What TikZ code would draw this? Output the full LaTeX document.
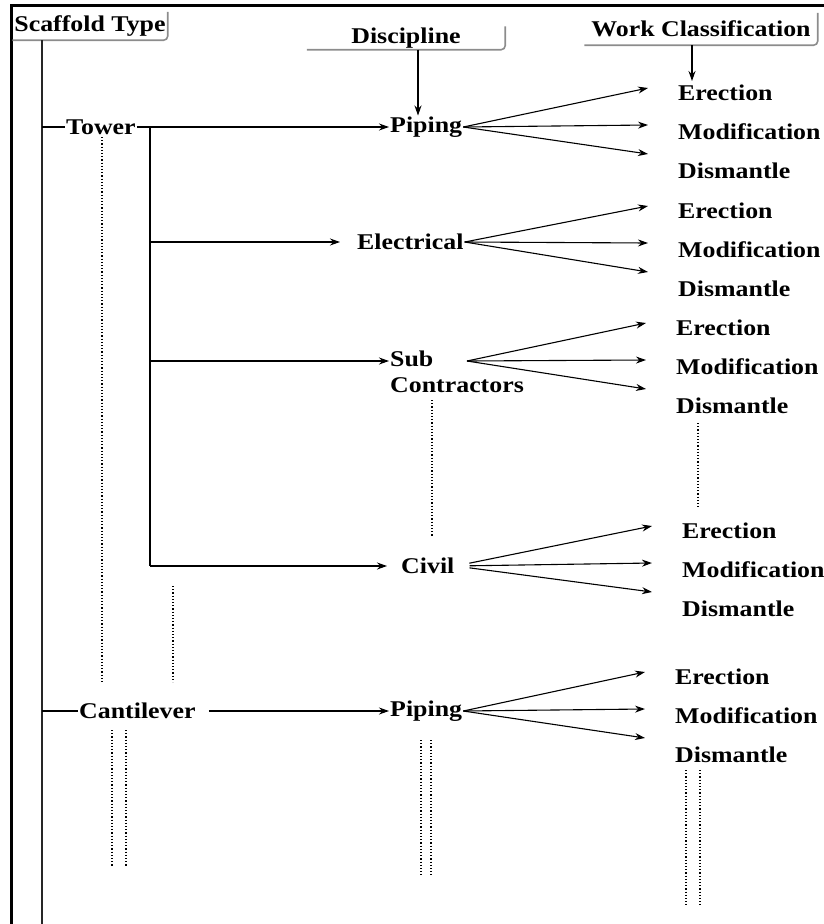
\documentclass[tikz,border=0pt]{standalone}
\usepackage{fontspec}
\setmainfont[FakeStretch=1.15]{Liberation Serif}
\usetikzlibrary{arrows.meta}
\usetikzlibrary{positioning}
\usetikzlibrary{calc}
\tikzset{%
    label/.style={font=\fontsize{22.5}{26}\selectfont\bfseries, inner sep=1pt},
    header/.style={label, inner sep=0pt},
    boxedge/.style={draw=black!45, line width=1.6pt, rounded corners=4pt},
    work/.style={label, anchor=west},
    disc/.style={label, anchor=west},
    arr/.style={line width=1.1pt, -{Stealth[length=10pt,width=7pt]}},
    conn/.style={line width=1.1pt},
    dots/.style={line width=1.2pt, dash pattern=on 1.2pt off 2pt},
}
\newcommand\fan[3][]{%
    \foreach \t/\s in {er/5,mo/7,di/17}
        \draw [arr,#1] (#2) -- ([xshift=-29pt,yshift=\s pt]#3-\t.west);
}

\begin{document}
\begin{tikzpicture}[x=1pt,y=-1pt]
\useasboundingbox (0,0) rectangle (824,924);
% frame
\draw [line width=3pt] (11,924) -- (11,5) -- (824,5);
% headers
\node (scaffold) [header, minimum width=155, minimum height=28] at (90,26) {Scaffold Type};
\node (discipline) [header, minimum width=198, minimum height=23] at (406,38) {Discipline};
\node (workclass) [header, minimum width=233, minimum height=32] at (701,29) {Work Classification};
\foreach \h in {scaffold,discipline,workclass}
    \draw [boxedge] (\h.north east) -- (\h.south east) -- (\h.south west);
% scaffold types
\coordinate (spine) at (42,40);
\node (tower) [disc] at (65,127) {Tower};
\node (cantilever) [disc] at (78,711) {Cantilever};
\draw [line width=2.6pt, black!85] (spine) -- (42,924);
\draw [conn] (spine |- tower.west) -- (tower.west);
\draw [conn] (spine |- cantilever.west) -- (cantilever.west);
% disciplines
\node (pipA) [disc] at (389,127) {Piping};
\node (elec) [disc] at (356,242) {Electrical};
\node (sub) [label, anchor=north west, align=left] at (389,350) {Sub\\Contractors};
\node (civil) [disc] at (400,566) {Civil};
\node (pipB) [disc] at (389,711) {Piping};
\coordinate (sub-in) at ([yshift=-11pt]sub.north west);
\coordinate (sub-fan) at (467,361);
\draw [arr] (discipline.south -| 418,0) -- (pipA.north -| 418,0);
\draw [arr] (workclass.south -| 692,0) -- (692,81);
% tower branches
\coordinate (trunk) at (150,127);
\draw [arr] (tower.east) -- (pipA.west);
\draw [conn] (trunk) -- (trunk |- civil.west);
\draw [arr, shorten >=16pt] (trunk |- elec.west) -- (elec.west);
\draw [arr] (trunk |- sub-in) -- (sub-in);
\draw [arr, shorten >=13pt] (trunk |- civil.west) -- (civil.west);
\draw [arr, shorten <=12pt] (cantilever.east) -- (pipB.west);
% work classification
\foreach \g/\x/\y in {pa/677/93, el/677/211, sb/675/328, cv/681/531, pb/674/677} {
    \node (\g-er) [work] at (\x,\y) {Erection};
    \node (\g-mo) [work] at (\x,\y+39) {Modification};
    \node (\g-di) [work] at (\x,\y+78) {Dismantle};
}
\fan{pipA.east}{pa}
\fan{elec.east}{el}
\fan{sub-fan}{sb}
\fan[shorten <=14pt]{civil.east}{cv}
\fan{pipB.east}{pb}
% continuation dots
\foreach \x/\a/\b in {102/137/682, 173/586/682, 112/730/866, 126/730/866,
        432/400/536, 698/423/507, 421/740/875, 431/740/875, 686/770/905, 700/770/905}
    \draw [dots] (\x,\a) -- (\x,\b);
\end{tikzpicture}
\end{document}
